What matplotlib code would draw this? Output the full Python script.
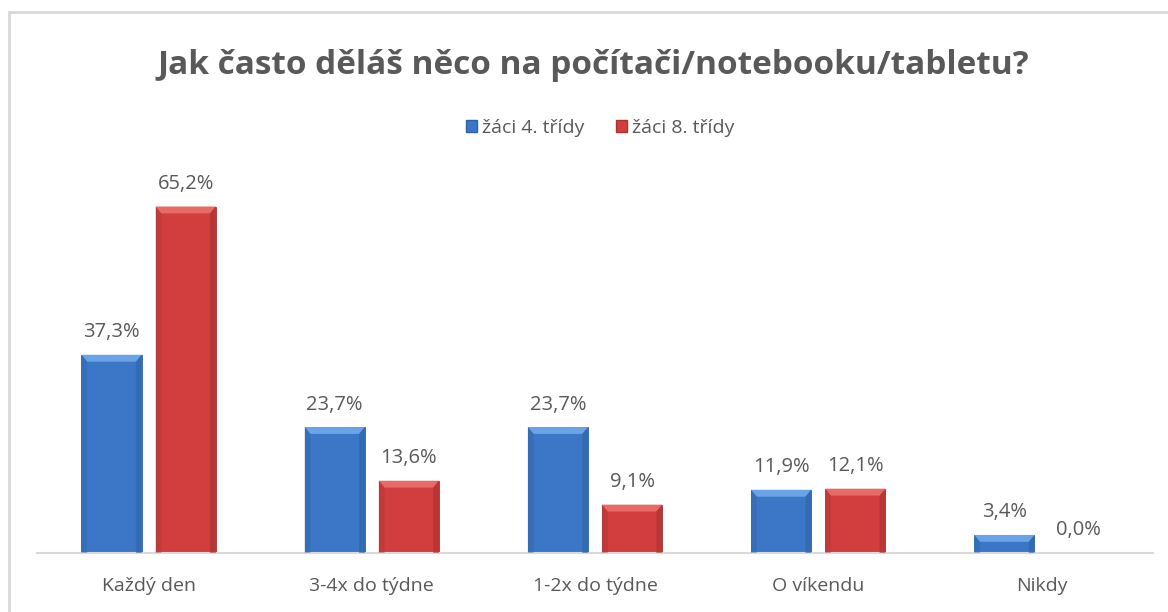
import matplotlib.pyplot as plt
import matplotlib.patches as mpatches
from matplotlib.patches import Polygon, Rectangle
import numpy as np

# --- Data ---
categories = ["Každý den", "3-4x do týdne", "1-2x do týdne", "O víkendu", "Nikdy"]
grade4 = [37.3, 23.7, 23.7, 11.9, 3.4]
grade8 = [65.2, 13.6, 9.1, 12.1, 0.0]
series_names = ["žáci 4. třídy", "žáci 8. třídy"]

# body, light top bevel, darker side
BLUE = ("#3b77c6", "#6aa3e6", "#2f62a6")
RED = ("#d13e3d", "#e66a66", "#a93232")
TEXT = "#595959"

plt.rcParams["font.family"] = ["Open Sans", "DejaVu Sans"]

fig = plt.figure(figsize=(11.68, 6.12), dpi=100)
fig.patch.set_facecolor("white")

# light grey frame around the chart area
fig.patches.append(Rectangle((9 / 1168, -0.1), 1.2, 1 - 12 / 612 + 0.1,
                             transform=fig.transFigure, fill=False,
                             edgecolor="#d9d9d9", linewidth=2, zorder=0))

ax = fig.add_axes([37 / 1168, 1 - 553 / 612, 1116 / 1168, 372 / 612])
ax.set_xlim(-0.5, 4.5)
ax.set_ylim(0, 70)

x = np.arange(len(categories))
width = 0.27
offset = 0.166


def bevel_bars(xs, vals, cols):
    bars = ax.bar(xs, vals, width, color=cols[0], edgecolor=cols[2],
                  linewidth=0.6, zorder=2)
    dx = 0.026
    dy = 1.3
    for r in bars:
        x0, w, h = r.get_x(), r.get_width(), r.get_height()
        if h <= 0:
            continue
        d = min(dy, h)
        ax.add_patch(Polygon([(x0, h), (x0 + w, h), (x0 + w - dx, h - d), (x0 + dx, h - d)],
                             closed=True, facecolor=cols[1], edgecolor="none", zorder=3))
        ax.add_patch(Polygon([(x0, 0), (x0, h), (x0 + dx, h - d), (x0 + dx, 0)],
                             closed=True, facecolor=cols[2], alpha=0.4, edgecolor="none", zorder=3))
        ax.add_patch(Polygon([(x0 + w, 0), (x0 + w, h), (x0 + w - dx, h - d), (x0 + w - dx, 0)],
                             closed=True, facecolor=cols[2], alpha=0.6, edgecolor="none", zorder=3))
    for r, v in zip(bars, vals):
        ax.annotate(f"{v:.1f}%".replace(".", ","), (r.get_x() + r.get_width() / 2, v),
                    xytext=(0, 9), textcoords="offset points", ha="center", va="bottom",
                    fontsize=14.5, color=TEXT)
    return bars


bevel_bars(x - offset, grade4, BLUE)
bevel_bars(x + offset, grade8, RED)

ax.set_xticks(x)
ax.set_xticklabels(categories, fontsize=14, color=TEXT)
ax.tick_params(axis="x", length=0, pad=17)
ax.set_yticks([])
for s in ["top", "left", "right"]:
    ax.spines[s].set_visible(False)
ax.spines["bottom"].set_color("#d9d9d9")
ax.spines["bottom"].set_linewidth(1.5)

# legend
handles = [mpatches.Patch(facecolor=BLUE[0], edgecolor=BLUE[2], label=series_names[0]),
           mpatches.Patch(facecolor=RED[0], edgecolor=RED[2], label=series_names[1])]
fig.legend(handles=handles, loc="center", bbox_to_anchor=(600 / 1168, 1 - 128 / 612),
           ncol=2, frameon=False, fontsize=14, labelcolor=TEXT,
           handlelength=0.6, handleheight=0.6, handletextpad=0.25, columnspacing=1.6)

fig.text(593 / 1168, 1 - 65 / 612, "Jak často děláš něco na počítači/notebooku/tabletu?",
         ha="center", va="center", fontsize=24, fontweight="bold", color=TEXT)

fig.savefig("out.png", dpi=100)
